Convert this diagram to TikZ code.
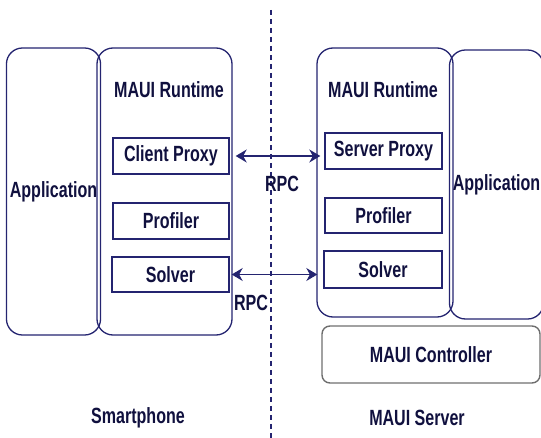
\documentclass[tikz,border=0pt]{standalone}
\usepackage{fontspec}
\setmainfont{Liberation Sans}[FakeStretch=0.73]
\usetikzlibrary{arrows.meta}

\definecolor{mauiline}{RGB}{36,36,112}
\definecolor{mauitext}{RGB}{16,16,62}
\definecolor{ctrlline}{RGB}{110,110,110}

\tikzset{
	tier/.style={draw=mauiline, line width=1.3pt, rounded corners=16pt},
	part/.style={draw=mauiline, line width=1.4pt},
	label/.style={text=mauitext, font=\fontsize{22}{24}\selectfont\bfseries},
	rpc/.style={draw=mauiline, line width=1.3pt, {Stealth[length=11pt,width=13pt]}-{Stealth[length=11pt,width=13pt]}},
}

\begin{document}
\begin{tikzpicture}[x=1pt, y=-1pt]
	\useasboundingbox (0,0) rectangle (541,438);

	% smartphone side
	\node[tier, label, minimum width=87pt, minimum height=287pt] (app1) at (53.5,191.5) {Application};
	\node[tier, minimum width=135pt, minimum height=287pt]       (rt1)  at (164.5,191.5) {};
	\node[label] (rt1title) at (169,90) {MAUI Runtime};
	\node[part, label, minimum width=116pt, minimum height=36pt] (cp)  at (171,156)   {Client Proxy};
	\node[part, label, minimum width=116pt, minimum height=36pt] (pf1) at (171,221)   {Profiler};
	\node[part, label, minimum width=117pt, minimum height=35pt] (sv1) at (170.5,274.5) {Solver};

	% server side
	\node[tier, minimum width=136pt, minimum height=269pt]       (rt2)  at (385,182.5) {};
	\node[tier, label, minimum width=87pt, minimum height=269pt] (app2) at (496.5,184.5) {Application};
	\node[label] (rt2title) at (383,90) {MAUI Runtime};
	\node[part, label, minimum width=117pt, minimum height=36pt] (sp)  at (383.5,151)   {Server Proxy};
	\node[part, label, minimum width=117pt, minimum height=35pt] (pf2) at (383.5,215.5) {Profiler};
	\node[part, label, minimum width=118pt, minimum height=37pt] (sv2) at (383,269.5)   {Solver};
	\node[draw=ctrlline, line width=1.4pt, rounded corners=8pt, label,
	      minimum width=218pt, minimum height=57pt] (ctrl) at (431,354.5) {MAUI Controller};

	% sides
	\node[label] (phone)  at (138,418) {Smartphone};
	\node[label] (server) at (417,418) {MAUI Server};
	\coordinate (cuttop) at (271,10);
	\coordinate (cutbot) at (271,438);
	\draw[mauiline, line width=1.1pt, dash pattern=on 5pt off 4pt] (cuttop) -- (cutbot);

	% rpc links
	\draw[rpc, shorten <=6pt, shorten >=4pt] (cp.east) -- (cp.east -| sp.west);
	\draw[rpc, shorten <=2pt, shorten >=6pt] (sv1.east) -- (sv1.east -| sv2.west);
	\node[label] (rpc1) at (282,184) {RPC};
	\node[label] (rpc2) at (251,303) {RPC};
\end{tikzpicture}
\end{document}
